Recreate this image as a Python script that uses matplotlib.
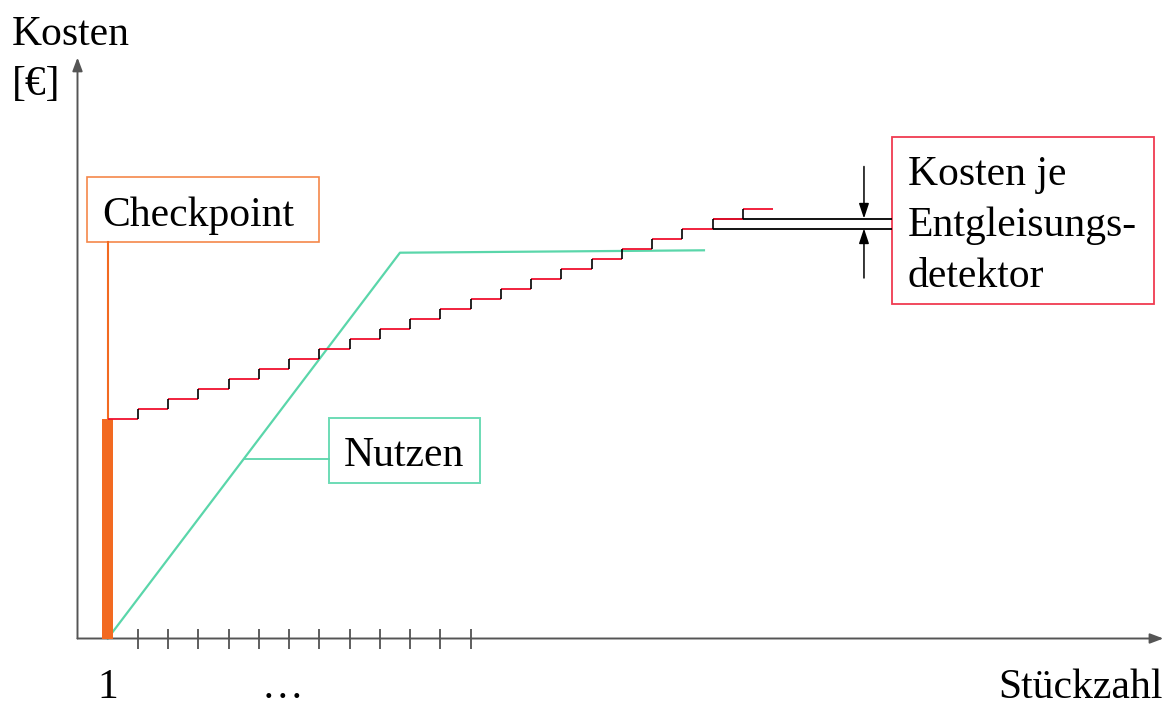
import matplotlib.pyplot as plt
import numpy as np
from matplotlib.patches import Rectangle

plt.rcParams['font.family'] = ['Liberation Serif', 'DejaVu Serif']

# Data
stueck = [1, 2, 3, 4, 5, 6, 7, 8, 9, 10, 11, 12, 13, 14, 15, 16, 17, 18, 19, 20, 21, 22]
kosten = [22, 23, 24, 25, 26, 27, 28, 29, 30, 31, 32, 33, 34, 35, 36, 37, 38, 39, 40, 41, 42, 43]
nutzen_x = [1, 10.66, 20.71]
nutzen_y = [0, 38.58, 38.82]
checkpoint_x = 1
checkpoint_kosten = 22
tick_pos = [2, 3, 4, 5, 6, 7, 8, 9, 10, 11, 12, 13]

# Colours
RED = '#F0102E'
GREEN = '#5AD6AA'
ORANGE = '#F26A21'
AXIS = '#555555'

fig = plt.figure(figsize=(11.71, 7.08), dpi=100)
ax = fig.add_axes([0, 0, 1, 1])
ax.set_xlim(-2.562, 36.15)
ax.set_ylim(-6.95, 63.85)
ax.axis('off')

# Axes with arrows
ax.annotate('', xy=(0, 58.1), xytext=(0, 0),
            arrowprops=dict(arrowstyle='-|>,head_length=0.8,head_width=0.3', color=AXIS, lw=1.4, shrinkA=0, shrinkB=0))
ax.annotate('', xy=(35.9, 0), xytext=(0, 0),
            arrowprops=dict(arrowstyle='-|>,head_length=0.8,head_width=0.3', color=AXIS, lw=1.4, shrinkA=0, shrinkB=0))
ax.vlines(tick_pos, -1.05, 0.95, color='#333333', lw=1.1)

# Checkpoint bar
ax.bar(checkpoint_x, checkpoint_kosten, width=0.35, color=ORANGE, zorder=3)
ax.plot([checkpoint_x, checkpoint_x], [checkpoint_kosten, 39.68], color=ORANGE, lw=1.5)
ax.add_patch(Rectangle((0.324, 39.68), 7.993 - 0.324, 46.12 - 39.68, fill=False, ec='#F5884A', lw=1.2))
ax.text(0.833, 41.25, 'Checkpoint', fontsize=30, va='baseline')

# Cost steps
st = np.array(stueck)
ko = np.array(kosten)
ax.hlines(ko, st, st + 1, color=RED, lw=1.3, zorder=4)
ax.vlines(st[1:], ko[:-1], ko[1:], color='black', lw=1.2, zorder=4)

# Nutzen line
ax.plot(nutzen_x, nutzen_y, color=GREEN, lw=1.6, zorder=2)
y_conn = 17.95
x_conn = np.interp(y_conn, nutzen_y[:2], nutzen_x[:2])
ax.plot([x_conn, 8.324], [y_conn, y_conn], color=GREEN, lw=1.3)
ax.add_patch(Rectangle((8.324, 15.52), 13.31 - 8.324, 22.02 - 15.52, fill=False, ec='#6CDCB6', lw=1.4))
ax.text(8.787, 17.28, 'Nutzen', fontsize=30, va='baseline')

# Kosten je Entgleisungsdetektor
lvl_lo, lvl_hi = kosten[-3], kosten[-2]
ax.hlines([lvl_lo, lvl_hi], stueck[-2], 26.93, color='black', lw=1.3, zorder=3)
ax.annotate('', xy=(26, lvl_hi), xytext=(26, 47.2),
            arrowprops=dict(arrowstyle='-|>,head_length=0.9,head_width=0.3', color='black', lw=1.1, shrinkA=0, shrinkB=0))
ax.annotate('', xy=(26, lvl_lo), xytext=(26, 36.05),
            arrowprops=dict(arrowstyle='-|>,head_length=0.9,head_width=0.3', color='black', lw=1.1, shrinkA=0, shrinkB=0))
ax.add_patch(Rectangle((26.93, 33.45), 35.6 - 26.93, 50.12 - 33.45, fill=False, ec='#F03A50', lw=1.3))
ax.text(27.45, 45.35, 'Kosten je', fontsize=30, va='baseline')
ax.text(27.45, 40.25, 'Entgleisungs-', fontsize=30, va='baseline')
ax.text(27.45, 35.15, 'detektor', fontsize=30, va='baseline')

# Axis labels
ax.text(-2.165, 59.35, 'Kosten', fontsize=30, va='baseline')
ax.text(-2.165, 54.35, '[€]', fontsize=30, va='baseline')
ax.text(1, -5.95, '1', fontsize=30, va='baseline', ha='center')
ax.text(6.78, -5.95, '…', fontsize=30, va='baseline', ha='center')
ax.text(35.89, -5.95, 'Stückzahl', fontsize=30, va='baseline', ha='right')

fig.savefig('out.png', dpi=100)
